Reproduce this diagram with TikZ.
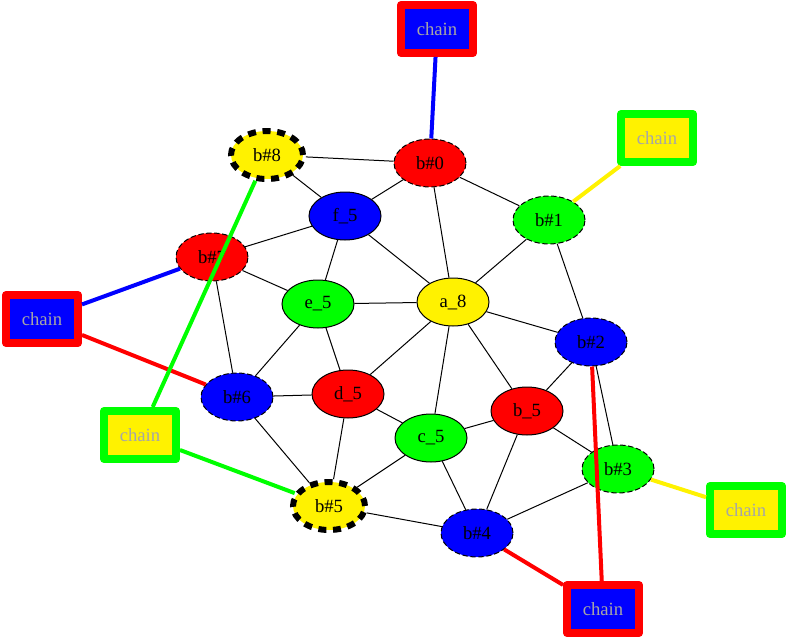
\documentclass[tikz,border=0pt]{standalone}
\usepackage{fontspec}
\setmainfont{Liberation Serif}
\usetikzlibrary{shapes.geometric}

\begin{document}
\begin{tikzpicture}[x=0.75pt,y=-0.75pt,
 every node/.style={font=\fontsize{14}{16}\selectfont},
 var/.style={ellipse,draw,line width=0.75pt,minimum width=54pt,minimum height=36pt,inner sep=0pt},
 loose/.style={var,dash pattern=on 4pt off 2pt},
 heavy/.style={var,fill=yellow,line width=4.5pt,dash pattern=on 6pt off 5pt},
 chainbox/.style={rectangle,line width=6pt,line join=round,minimum width=54pt,minimum height=36pt,inner sep=0pt,text=black!35},
 link/.style={line width=0.75pt},
 tie/.style={line width=3pt}]
\useasboundingbox (0,0) rectangle (788,639);
% inner ring
\node[var,fill=blue] (f5) at (345,216) {f\_5};
\node[var,fill=green] (e5) at (318,304) {e\_5};
\node[var,fill=yellow] (a8) at (453,302) {a\_8};
\node[var,fill=red] (d5) at (348,394) {d\_5};
\node[var,fill=red] (bu5) at (527,411) {b\_5};
\node[var,fill=green] (c5) at (431,438) {c\_5};
% outer ring
\node[heavy] (b8) at (267,155) {b\#8};
\node[loose,fill=red] (b0) at (430,163) {b\#0};
\node[loose,fill=green] (b1) at (549,220) {b\#1};
\node[loose,fill=red] (b7) at (212,257) {b\#7};
\node[loose,fill=blue] (b2) at (591,342) {b\#2};
\node[loose,fill=blue] (b6) at (237,397) {b\#6};
\node[loose,fill=green] (b3) at (618,469) {b\#3};
\node[heavy] (b5) at (329,506) {b\#5};
\node[loose,fill=blue] (b4) at (477,533) {b\#4};
% chains
\node[chainbox,draw=red,fill=blue] (ch0) at (437,29) {chain};
\node[chainbox,draw=green,fill=yellow] (ch1) at (657,138) {chain};
\node[chainbox,draw=red,fill=blue] (ch2) at (42,319) {chain};
\node[chainbox,draw=green,fill=yellow] (ch3) at (140,435) {chain};
\node[chainbox,draw=green,fill=yellow] (ch4) at (746,510) {chain};
\node[chainbox,draw=red,fill=blue] (ch5) at (603,609) {chain};
% black edges
\draw[link] (b8) -- (b0);
\draw[link] (b8) -- (f5);
\draw[link] (b0) -- (f5);
\draw[link] (b0) -- (b1);
\draw[link] (b0) -- (a8);
\draw[link] (f5) -- (b7);
\draw[link] (f5) -- (e5);
\draw[link] (f5) -- (a8);
\draw[link] (b7) -- (e5);
\draw[link] (b7) -- (b6);
\draw[link] (e5) -- (a8);
\draw[link] (e5) -- (b6);
\draw[link] (e5) -- (d5);
\draw[link] (a8) -- (b1);
\draw[link] (a8) -- (b2);
\draw[link] (a8) -- (d5);
\draw[link] (a8) -- (c5);
\draw[link] (a8) -- (bu5);
\draw[link] (b1) -- (b2);
\draw[link] (b2) -- (bu5);
\draw[link] (b2) -- (b3);
\draw[link] (b6) -- (d5);
\draw[link] (b6) -- (b5);
\draw[link] (d5) -- (c5);
\draw[link] (d5) -- (b5);
\draw[link] (c5) -- (bu5);
\draw[link] (c5) -- (b5);
\draw[link] (c5) -- (b4);
\draw[link] (bu5) -- (b4);
\draw[link] (bu5) -- (b3);
\draw[link] (b3) -- (b4);
\draw[link] (b5) -- (b4);
% coloured edges
\draw[tie,blue] (ch0) -- (b0);
\draw[tie,yellow] (ch1) -- (b1);
\draw[tie,blue] (ch2) -- (b7);
\draw[tie,red] (ch2) -- (b6);
\draw[tie,green] (ch3) -- (b8);
\draw[tie,green] (ch3) -- (b5);
\draw[tie,yellow] (ch4) -- (b3);
\draw[tie,red] (ch5) -- (b2);
\draw[tie,red] (ch5) -- (b4);
\end{tikzpicture}
\end{document}
